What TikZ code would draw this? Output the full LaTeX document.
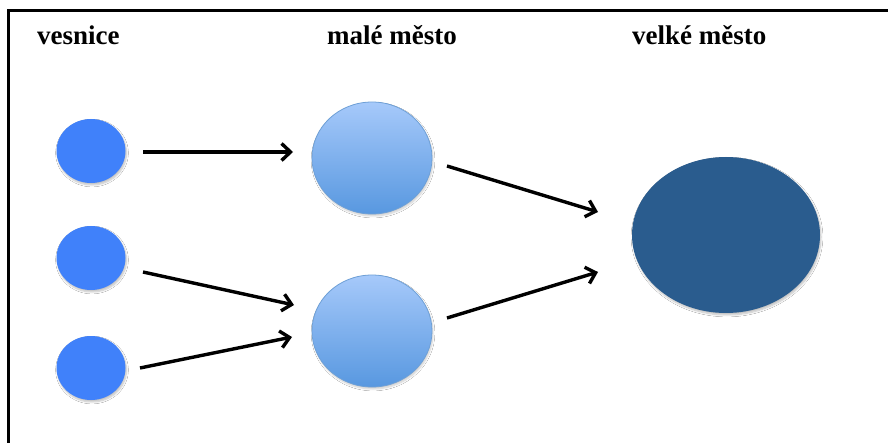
\documentclass[tikz,border=0pt]{standalone}
\usepackage{fontspec}
\setmainfont{Liberation Serif}
\usetikzlibrary{shapes.geometric,arrows.meta,calc,shadows.blur}
\definecolor{village}{RGB}{64,129,250}
\definecolor{smalltop}{RGB}{166,201,250}
\definecolor{smallbot}{RGB}{88,152,224}
\definecolor{smallborder}{RGB}{110,160,215}
\definecolor{bigcity}{RGB}{42,92,142}
\tikzset{
  lbl/.style={anchor=base west,inner sep=0pt,font=\fontsize{27}{30}\selectfont\bfseries},
  vill/.style={ellipse,minimum width=69pt,minimum height=64pt,inner sep=0pt,fill=village,
    blur shadow={shadow xshift=1pt,shadow yshift=-2pt,shadow blur steps=6,shadow opacity=25}},
  town/.style={ellipse,minimum width=120pt,minimum height=112pt,inner sep=0pt,
    top color=smalltop,bottom color=smallbot,draw=smallborder,line width=0.8pt,
    blur shadow={shadow xshift=1pt,shadow yshift=-2pt,shadow blur steps=6,shadow opacity=20}},
  city/.style={ellipse,minimum width=188pt,minimum height=156pt,inner sep=0pt,fill=bigcity,
    blur shadow={shadow xshift=1pt,shadow yshift=-2pt,shadow blur steps=6,shadow opacity=25}},
  arr/.style={-{Straight Barb[length=9pt,width=17pt,line width=3.4pt]},line width=3.4pt,black}
}
\begin{document}
\begin{tikzpicture}[x=1pt,y=-1pt]
\useasboundingbox (0,0) rectangle (888,443);
\fill[white] (0,0) rectangle (888,443);
\draw[line width=3pt] (8,443) -- (8,11) -- (888,11);
\node[lbl] (t1) at (37,45) {vesnice};
\node[lbl] (t2) at (327,45) {malé město};
\node[lbl] (t3) at (632,45) {velké město};
\node[vill] (v1) at (91,151) {};
\node[vill] (v2) at (91,258) {};
\node[vill] (v3) at (91,368) {};
\node[town] (s1) at (372,158) {};
\node[town] (s2) at (372,331) {};
\node[city] (c) at (726,235) {};
\draw[arr] ($(v1)+(52,1)$) -- ($(s1)+(-79,-6)$);
\draw[arr] ($(v2)+(52,14)$) -- ($(s2)+(-78,-26)$);
\draw[arr] ($(v3)+(49,0)$) -- ($(s2)+(-80,6)$);
\draw[arr] ($(s1)+(75,8)$) -- ($(c)+(-128,-23)$);
\draw[arr] ($(s2)+(75,-13)$) -- ($(c)+(-128,37)$);
\end{tikzpicture}
\end{document}
